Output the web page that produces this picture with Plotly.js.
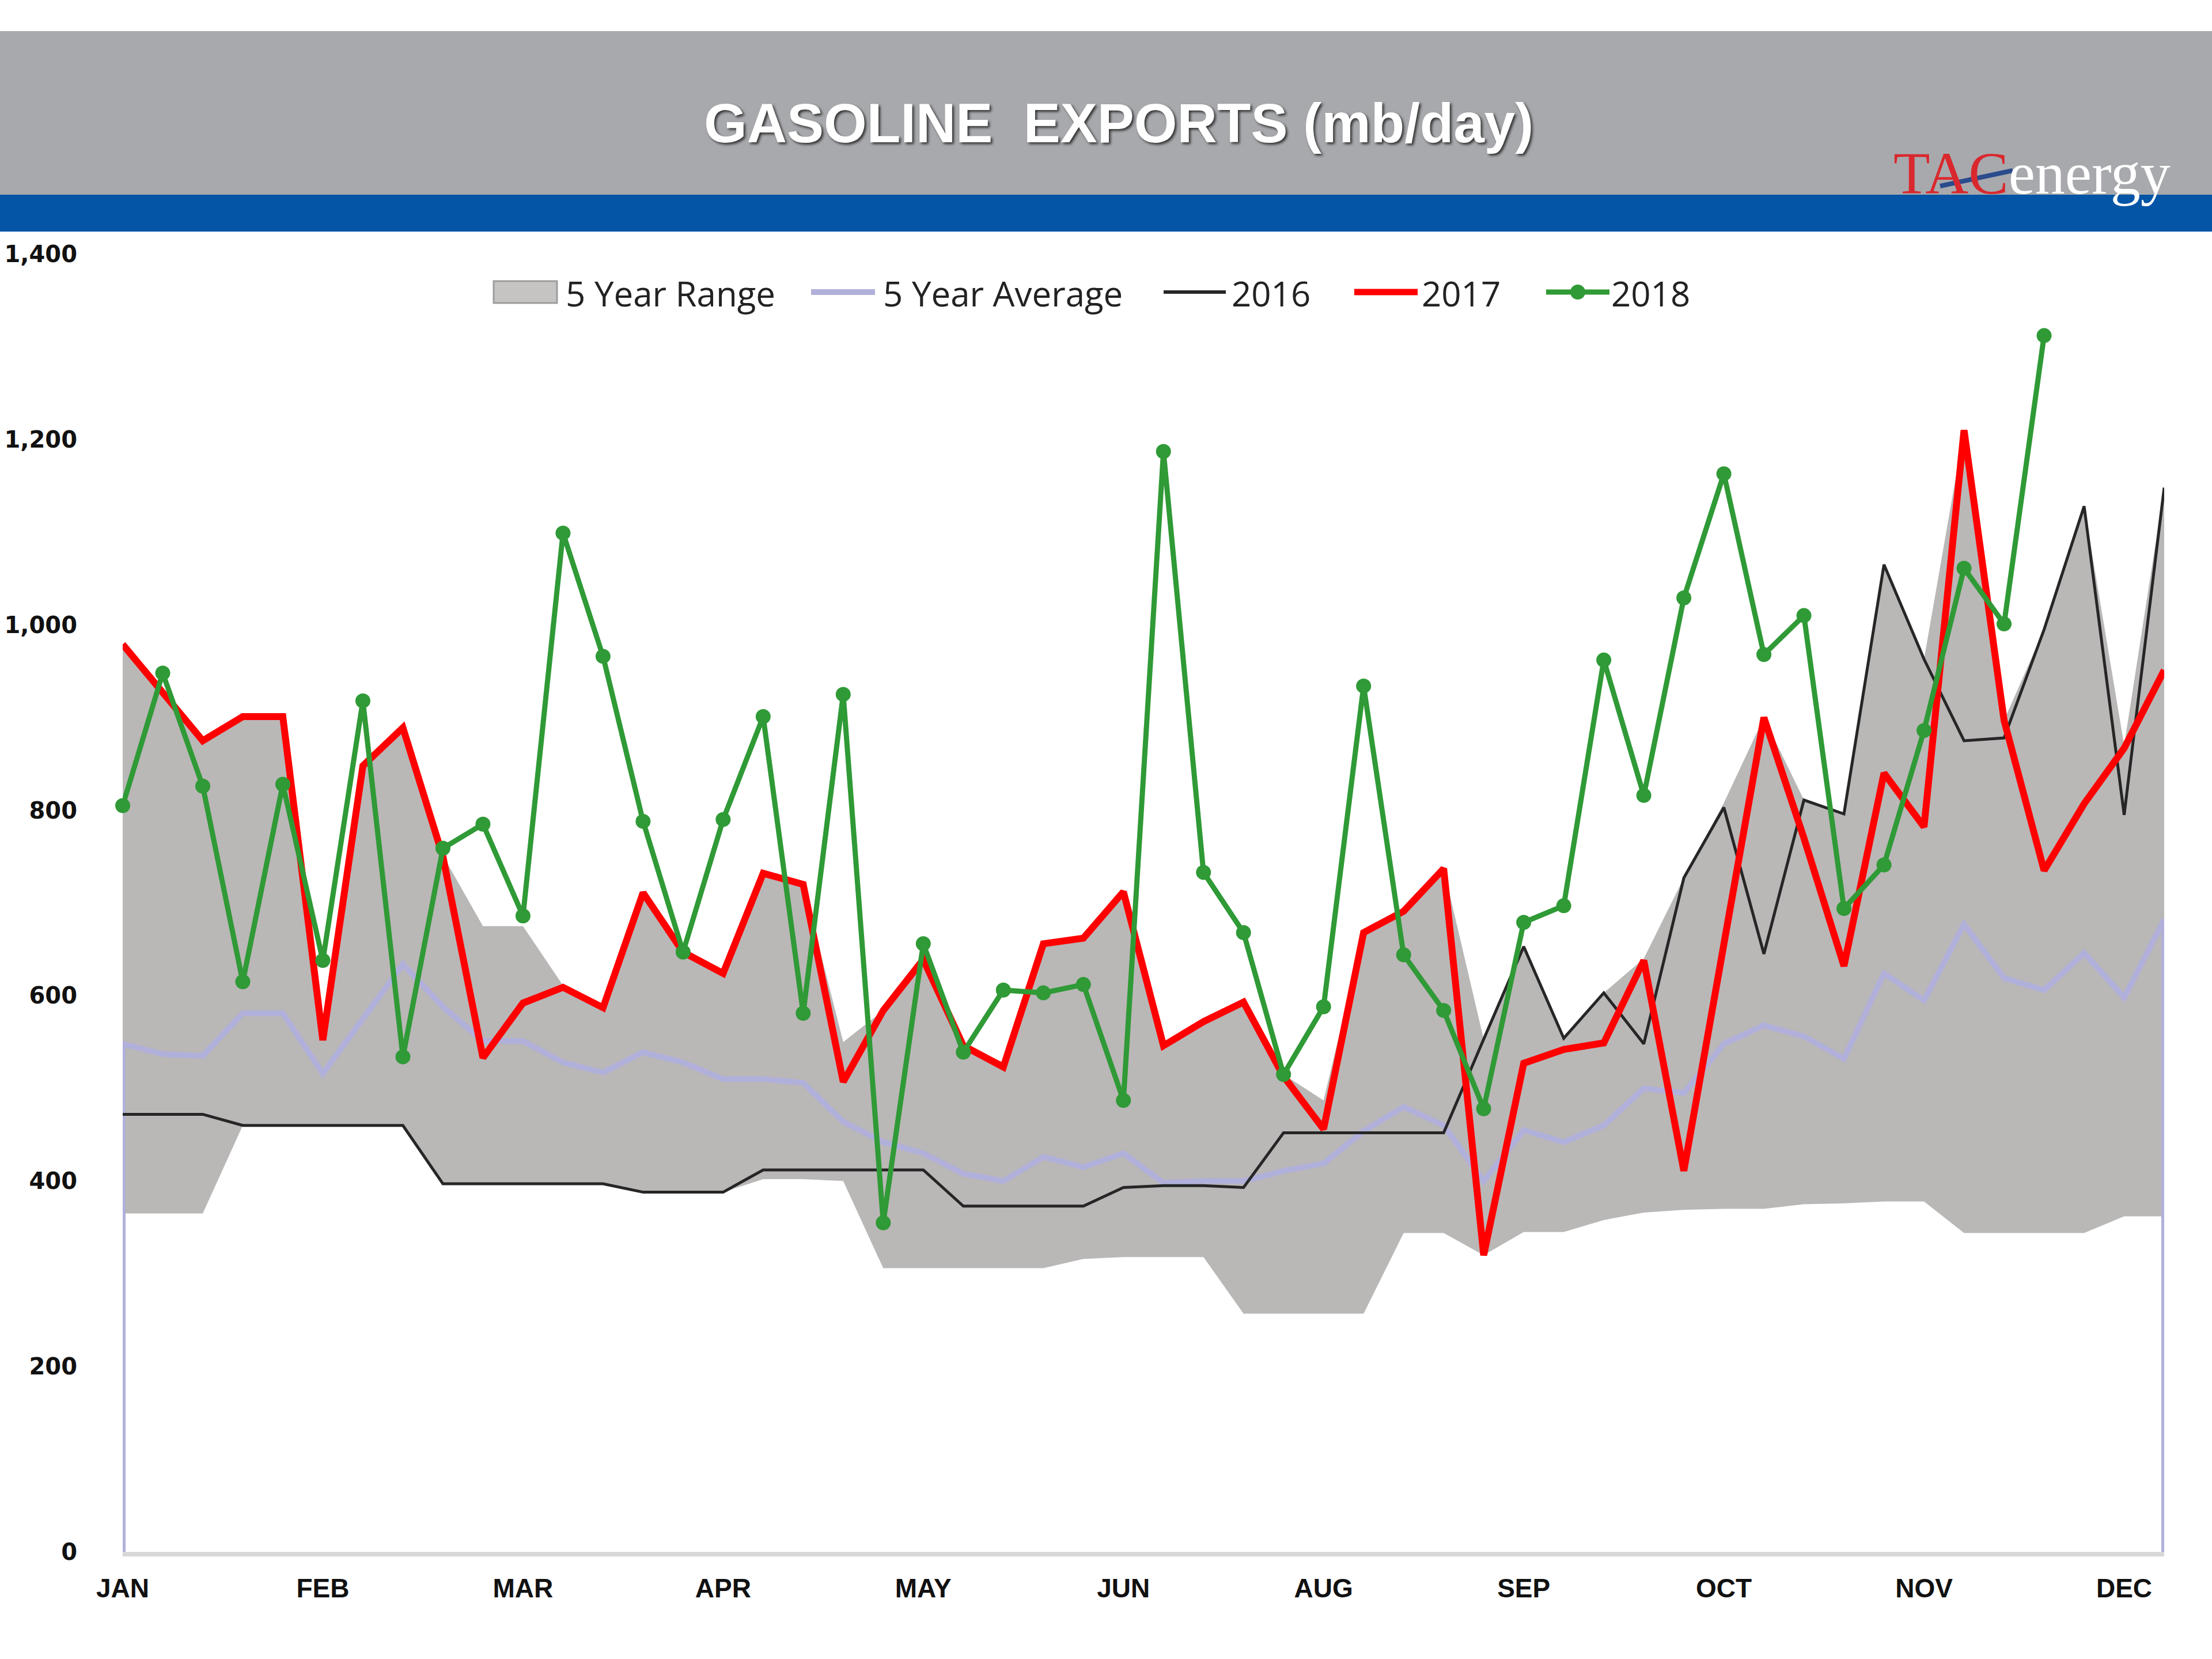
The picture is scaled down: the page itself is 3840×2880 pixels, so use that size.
<!DOCTYPE html>
<html><head><meta charset="utf-8">
<script src="https://cdn.plot.ly/plotly-3.0.1.min.js"></script>
<style>html,body{margin:0;padding:0;background:#fff}#chart{width:3840px;height:2880px}</style>
</head><body><div id="chart"></div>
<script>
// ---------- DATA ----------
const weeks = [1,2,3,4,5,6,7,8,9,10,11,12,13,14,15,16,17,18,19,20,21,22,23,24,25,26,
  27,28,29,30,31,32,33,34,35,36,37,38,39,40,41,42,43,44,45,46,47,48,49,50,51,52];
const monthTickWeeks = [1,6,11,16,21,26,31,36,41,46,51];
const monthLabels = ['JAN','FEB','MAR','APR','MAY','JUN','AUG','SEP','OCT','NOV','DEC'];

const rangeLow = [365,365,365,460,460,460,460,460,397,397,397,397,397,388,388,388,402,402,400,306,
  306,306,306,306,316,318,318,318,257,257,257,257,344,344,320,345,345,358,366,369,
  370,370,375,376,378,378,344,344,344,344,362,362];
const rangeHigh = [979,927,875,901,901,552,848,889,751,675,675,611,590,711,647,624,732,720,550,584,
  639,547,528,656,664,712,546,572,593,515,487,668,691,737,553,653,554,603,640,727,
  808,900,811,796,1065,963,1210,897,995,1128,870,1148];
const avg5 = [548,537,535,581,581,516,575,634,588,551,551,528,517,539,528,510,510,506,464,442,
  430,408,400,426,415,430,398,400,400,411,419,454,480,460,400,455,442,460,500,495,
  548,568,556,532,624,595,677,619,606,646,598,682];
const y2016 = [472,472,472,460,460,460,460,460,397,397,397,397,397,388,388,388,412,412,412,412,
  412,373,373,373,373,393,395,395,393,452,452,452,452,452,553,653,554,603,548,727,
  803,645,811,796,1065,963,875,878,995,1128,795,1148];
const y2017 = [979,927,875,901,901,552,848,889,750,533,592,609,587,711,647,624,732,720,507,584,
  639,546,523,656,662,712,546,572,593,513,456,668,691,737,320,527,542,549,638,411,
  656,900,770,632,840,782,1210,897,735,807,867,951];
const y2018 = [805,948,826,615,828,638,918,534,759,785,686,1099,966,788,647,790,901,581,925,355,
  656,539,606,603,612,487,1187,733,668,515,588,934,644,584,478,679,697,962,816,1029,
  1163,968,1010,694,741,886,1061,1001,1312];
const yTicks = [0,200,400,600,800,1000,1200,1400];
const seriesNames = ['5 Year Range','5 Year Average','2016','2017','2018'];

// ---------- STYLE ----------
const C_RANGE = '#bab7b7', C_AVG = '#b0b0da', C_16 = '#262626', C_17 = '#ff0000', C_18 = '#2f9a36';

// ---------- LAYOUT HELPERS (pixel -> paper) ----------
const W = 3840, H = 2880;
const L = 213, R = 3757, T = 441, B = 2694;
const px = p => (p - L) / (R - L);
const py = p => (B - p) / (B - T);

const avgX = [weeks[0]].concat(weeks, [weeks[weeks.length - 1]]);
const avgY = [0].concat(avg5, [0]);

const traces = [
  {x: weeks, y: rangeLow, mode: 'lines', line: {width: 0, color: 'rgba(0,0,0,0)'},
   showlegend: false, hoverinfo: 'skip'},
  {x: weeks, y: rangeHigh, mode: 'lines', fill: 'tonexty', fillcolor: C_RANGE,
   line: {width: 0, color: C_RANGE}, name: seriesNames[0], showlegend: false},
  {x: avgX, y: avgY, mode: 'lines', line: {width: 10, color: C_AVG}, name: seriesNames[1], showlegend: false},
  {x: weeks, y: y2016, mode: 'lines', line: {width: 5, color: C_16}, name: seriesNames[2], showlegend: false},
  {x: weeks, y: y2017, mode: 'lines', line: {width: 12, color: C_17}, name: seriesNames[3], showlegend: false},
  {x: weeks.slice(0, y2018.length), y: y2018, mode: 'lines+markers', cliponaxis: false,
   line: {width: 9, color: C_18}, marker: {size: 26, color: C_18}, name: seriesNames[4], showlegend: false}
];

// manual legend (positions in pixels)
const legY = 507;
const legSym = [[857, 967], [1408, 1519], [2020, 2128], [2351, 2461], [2684, 2794]];
const legTextX = [980, 1531, 2136, 2466, 2795];
const legShapes = [
  {type: 'rect', xref: 'paper', yref: 'paper', x0: px(legSym[0][0]), x1: px(legSym[0][1]),
   y0: py(legY + 19), y1: py(legY - 19), fillcolor: '#c6c3c3', line: {color: '#9d9d9d', width: 3}},
  {type: 'line', xref: 'paper', yref: 'paper', x0: px(legSym[1][0]), x1: px(legSym[1][1]),
   y0: py(legY), y1: py(legY), line: {color: C_AVG, width: 10}},
  {type: 'line', xref: 'paper', yref: 'paper', x0: px(legSym[2][0]), x1: px(legSym[2][1]),
   y0: py(legY), y1: py(legY), line: {color: C_16, width: 6}},
  {type: 'line', xref: 'paper', yref: 'paper', x0: px(legSym[3][0]), x1: px(legSym[3][1]),
   y0: py(legY), y1: py(legY), line: {color: C_17, width: 11}},
  {type: 'line', xref: 'paper', yref: 'paper', x0: px(legSym[4][0]), x1: px(legSym[4][1]),
   y0: py(legY), y1: py(legY), line: {color: C_18, width: 9}},
  {type: 'circle', xref: 'paper', yref: 'paper',
   x0: px((legSym[4][0] + legSym[4][1]) / 2 - 13), x1: px((legSym[4][0] + legSym[4][1]) / 2 + 13),
   y0: py(legY + 13), y1: py(legY - 13), fillcolor: C_18, line: {width: 0}}
];
const legAnn = seriesNames.map((n, i) => ({
  text: n, xref: 'paper', yref: 'paper', x: px(legTextX[i]), y: py(legY + 2),
  xanchor: 'left', yanchor: 'middle', showarrow: false,
  font: {family: 'Open Sans, sans-serif', size: 60, color: '#222'}
}));

const layout = {
  width: W, height: H,
  paper_bgcolor: '#ffffff', plot_bgcolor: '#ffffff',
  margin: {l: L, r: W - R, t: T, b: H - B, autoexpand: false},
  showlegend: false,
  xaxis: {range: [weeks[0], weeks[weeks.length - 1]], tickmode: 'array', tickvals: monthTickWeeks,
    ticktext: monthLabels, showgrid: false, zeroline: false, showline: true,
    linecolor: '#d8d8d8', linewidth: 8, ticks: 'outside', ticklen: 16,
    tickcolor: 'rgba(0,0,0,0)',
    tickfont: {family: 'Liberation Sans, Arial, sans-serif', size: 46, color: '#111', weight: 'bold'}},
  yaxis: {range: [0, 1400], tickmode: 'array', tickvals: yTicks, tickformat: ',d',
    showgrid: false, zeroline: false, showline: false, ticks: 'outside', ticklen: 70,
    tickcolor: 'rgba(0,0,0,0)',
    tickfont: {family: 'DejaVu Sans, sans-serif', size: 40, color: '#111', weight: 'bold'}},
  shapes: [
    {type: 'rect', xref: 'paper', yref: 'paper', x0: px(0), x1: px(W), y0: py(338), y1: py(54),
     fillcolor: '#a8a9ad', line: {width: 0}, layer: 'below'},
    {type: 'rect', xref: 'paper', yref: 'paper', x0: px(0), x1: px(W), y0: py(402), y1: py(338),
     fillcolor: '#0455a6', line: {width: 0}, layer: 'below'},
    {type: 'line', xref: 'paper', yref: 'paper', x0: px(3368), x1: px(3494), y0: py(323), y1: py(296),
     line: {color: '#2b4c8c', width: 8}}
  ].concat(legShapes),
  annotations: [
    {text: 'GASOLINE&nbsp; EXPORTS (mb/day)', xref: 'paper', yref: 'paper',
     x: px(1942), y: py(213), xanchor: 'center', yanchor: 'middle', showarrow: false,
     font: {family: 'Liberation Sans, Arial, sans-serif', size: 96, color: '#ffffff', weight: 'bold',
       shadow: '3px 3px 4px rgba(30,30,30,0.85)'}},
    {text: '<span style="color:#d9282e">TAC</span>energy', xref: 'paper', yref: 'paper',
     x: px(3770), y: py(300), xanchor: 'right', yanchor: 'middle', showarrow: false,
     font: {family: 'Liberation Serif, serif', size: 104, color: '#ffffff'}}
  ].concat(legAnn)
};

Plotly.newPlot('chart', traces, layout, {displayModeBar: false, staticPlot: true});
</script></body></html>
